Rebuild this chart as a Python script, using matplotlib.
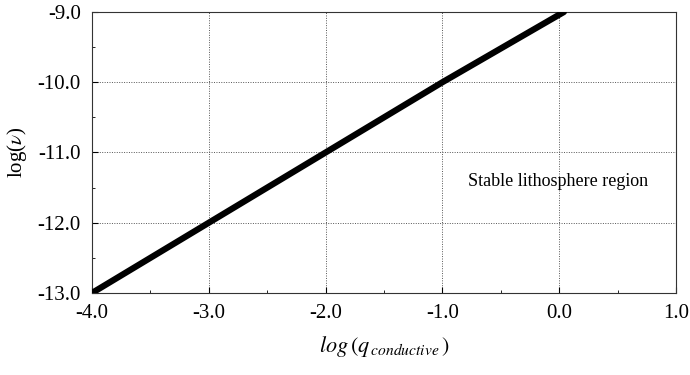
import numpy as np
import matplotlib.pyplot as plt
from matplotlib.ticker import MultipleLocator, FormatStrFormatter

plt.rcParams['font.family'] = ['Liberation Serif', 'DejaVu Serif']
plt.rcParams['mathtext.fontset'] = 'stix'

# data
log_q = [-4.0, -3.0, -2.0, -1.0, 0.04]
log_v = [-13.0, -12.0, -11.0, -10.0, -9.0]

fig = plt.figure(figsize=(6.9, 3.75), dpi=100)
ax = fig.add_axes([0.1333, 0.2187, 0.8464, 0.7493])

ax.plot(log_q, log_v, color='black', lw=4.5, solid_capstyle='round', zorder=3)

ax.set_xlim(-4.0, 1.0)
ax.set_ylim(-13.0, -9.0)
ax.xaxis.set_major_locator(MultipleLocator(1.0))
ax.yaxis.set_major_locator(MultipleLocator(1.0))
ax.xaxis.set_minor_locator(MultipleLocator(0.5))
ax.yaxis.set_minor_locator(MultipleLocator(0.5))
ax.xaxis.set_major_formatter(FormatStrFormatter('%.1f'))
ax.yaxis.set_major_formatter(FormatStrFormatter('%.1f'))
ax.tick_params(which='major', direction='in', length=4, labelsize=15, pad=8)
ax.tick_params(which='minor', direction='in', length=2)

ax.grid(True, which='major', color='#555555', ls=(0, (1, 1.5)), lw=0.7)
for s in ax.spines.values():
    s.set_linewidth(0.8)
    s.set_color('#333333')

ax.set_ylabel(r'log($\nu$)', fontsize=15, labelpad=6)
ax.set_xlabel(r'$log\,(q_{\,conductive}\,)$', fontsize=16, labelpad=8)

ax.text(-0.78, -11.42, 'Stable lithosphere region', fontsize=13, va='center', ha='left')

plt.savefig('out.png', dpi=100)
